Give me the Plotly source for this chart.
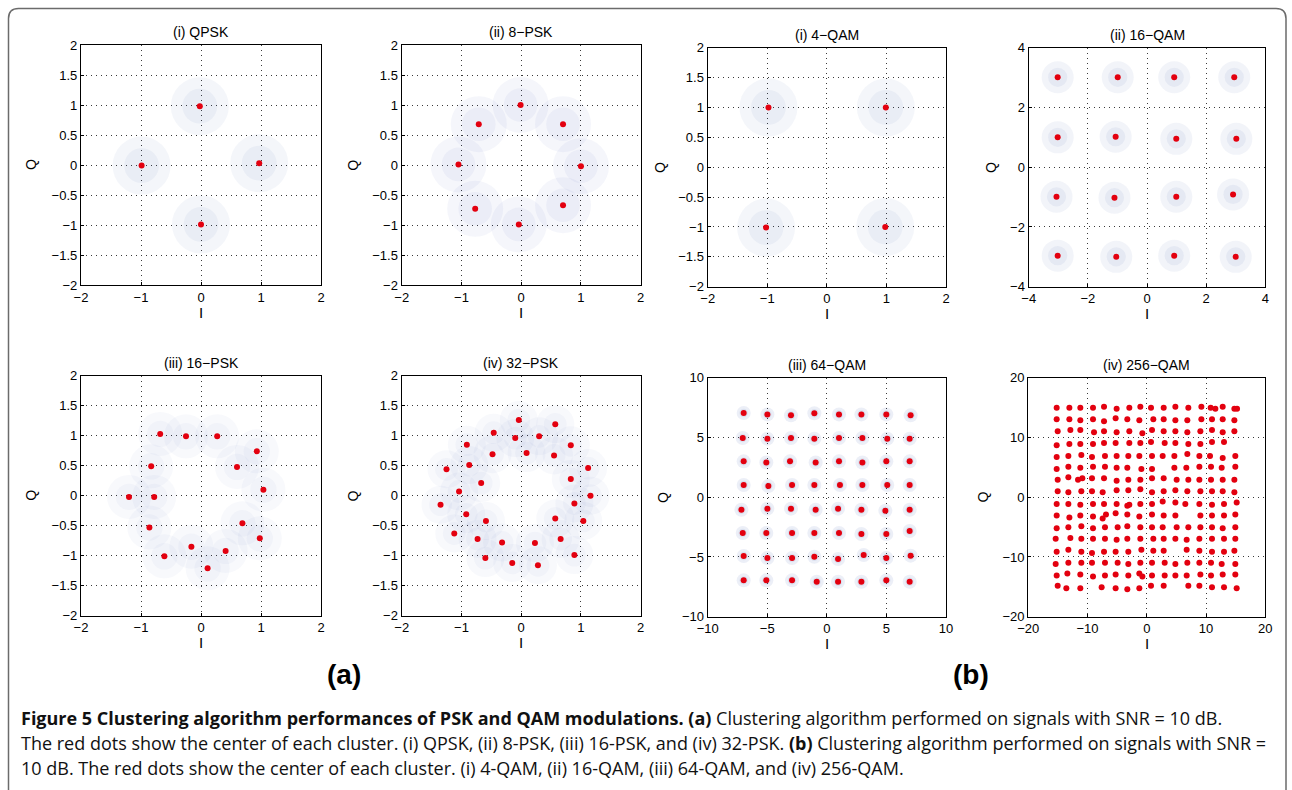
import plotly.graph_objects as go

W, H = 1292, 790

# ---------------- data: cluster centres ----------------
qpsk_i = [-0.02, -0.99, 0.97, 0.00]
qpsk_q = [0.98, -0.01, 0.03, -0.99]

psk8_i = [-0.01, -0.71, 0.70, -1.05, 1.00, -0.77, 0.70, -0.04]
psk8_q = [1.00, 0.68, 0.68, 0.01, -0.02, -0.73, -0.67, -0.99]

psk16_i = [-0.68, -0.25, 0.27, 0.93, 0.60, 1.04, 0.69, 0.98,
           0.41, 0.11, -0.16, -0.61, -0.86, -0.78, -1.20, -0.83]
psk16_q = [1.03, 0.99, 0.99, 0.74, 0.48, 0.10, -0.46, -0.71,
           -0.92, -1.21, -0.85, -1.01, -0.53, -0.02, -0.02, 0.49]

psk32_i = [-0.04, 0.57, -0.46, -0.10, 0.30, -0.91, 0.83, -0.48,
           0.09, 0.55, -1.25, -0.87, 1.12, 0.83, -0.67, -1.04,
           -1.35, 1.16, 0.89, -0.92, -0.59, 0.57, 1.04, -1.12,
           -0.73, -0.32, 0.23, 0.66, -0.60, -0.15, 0.28, 0.89]
psk32_q = [1.26, 1.19, 1.05, 0.96, 0.99, 0.85, 0.84, 0.69,
           0.71, 0.67, 0.44, 0.51, 0.46, 0.28, 0.21, 0.07,
           -0.15, 0.00, -0.13, -0.31, -0.42, -0.38, -0.42, -0.63,
           -0.72, -0.78, -0.79, -0.72, -1.04, -1.12, -1.16, -0.99]

qam4_i = [-0.98, 0.99, -1.02, 0.98]
qam4_q = [1.00, 1.00, -1.01, -1.00]

qam16_i = [-3.02, -0.99, 0.92, 2.95,
           -3.02, -1.06, 0.99, 3.02,
           -3.06, -1.10, 0.99, 2.91,
           -3.02, -1.04, 0.92, 3.00]
qam16_q = [3.01, 3.01, 3.01, 3.01,
           1.00, 1.02, 0.95, 0.95,
           -0.99, -1.02, -0.99, -0.91,
           -2.96, -3.00, -2.96, -3.00]

qam64_i = [-6.98, -4.99, -3.01, -1.05, 1.02, 2.90, 4.99, 7.03,
           -7.06, -4.99, -3.01, -1.05, 1.02, 2.98, 5.07, 6.95,
           -6.98, -5.08, -3.09, -0.94, 1.02, 2.98, 4.99, 6.95,
           -6.98, -4.91, -2.92, -1.05, 1.10, 2.98, 5.07, 6.95,
           -7.17, -4.99, -3.01, -0.94, 0.94, 2.90, 4.91, 6.95,
           -7.06, -5.08, -2.92, -1.05, 1.02, 2.90, 4.99, 6.95,
           -6.98, -4.99, -2.92, -1.05, 0.94, 3.09, 4.99, 7.03,
           -6.98, -5.08, -2.92, -0.85, 0.94, 2.90, 4.99, 6.95]
qam64_q = [7.04, 6.93, 6.85, 7.02, 6.93, 6.93, 6.93, 6.85,
           4.95, 4.90, 4.95, 4.90, 4.95, 4.95, 4.90, 4.90,
           3.00, 2.91, 3.00, 2.91, 3.00, 2.91, 3.00, 3.00,
           1.02, 0.93, 1.02, 1.02, 1.02, 1.02, 1.02, 1.02,
           -1.05, -0.96, -0.96, -1.05, -0.96, -1.05, -1.13, -1.05,
           -3.00, -3.00, -3.00, -3.00, -3.00, -3.08, -3.08, -2.83,
           -4.92, -5.09, -5.09, -4.98, -5.17, -4.84, -5.09, -4.89,
           -6.96, -6.96, -6.96, -7.07, -7.07, -7.07, -6.96, -7.07]

qam256_i = [
    -15.21, -13.07, -11.22, -9.08, -7.22, -5.09, -2.95, -1.09, 0.71, 2.85, 4.82, 7.01, 9.21, 10.78, 11.57, 12.81, 14.78, 15.23,
    -15.21, -13.07, -11.22, -9.08, -7.22, -5.26, -3.29, -1.26, 1.10, 2.85, 4.82, 6.84, 9.21, 11.00, 12.81, 14.78,
    -15.04, -12.90, -11.22, -8.91, -7.22, -5.09, -2.95, -0.75, 0.88, 2.85, 4.82, 6.84, 9.04, 11.00, 12.81, 14.78,
    -15.21, -13.07, -11.22, -9.08, -7.22, -5.26, -2.95, -1.09, 0.71, 3.02, 4.82, 7.01, 9.04, 11.00, 13.03,
    -15.21, -13.24, -11.05, -9.25, -7.06, -5.09, -3.12, -1.26, 0.88, 2.68, 4.65, 6.84, 8.87, 10.67, 12.81, 14.94,
    -15.21, -13.24, -11.22, -9.08, -7.06, -5.09, -3.29, -0.92, 0.88, 4.65, 6.67, 8.87, 10.84, 12.64, 14.94,
    -15.04, -13.24, -11.61, -10.88, -9.25, -7.22, -5.09, -3.12, -1.09, 0.88, 2.85, 5.04, 7.01, 8.87, 10.84, 12.81, 14.78,
    -15.04, -13.24, -11.05, -9.25, -7.45, -5.09, -3.12, -1.09, 0.88, 2.85, 4.82, 6.84, 9.04, 11.00, 12.81, 14.78,
    -15.21, -13.24, -11.22, -9.08, -7.22, -5.09, -3.29, -2.95, -1.09, 0.88, 2.68, 4.82, 6.50, 8.87, 11.00, 13.03, 15.17,
    -15.21, -13.07, -11.22, -9.08, -6.89, -7.45, -5.26, -3.29, -1.26, 0.88, 2.85, 4.82, 9.04, 11.00, 13.03, 14.94,
    -15.21, -13.24, -11.05, -9.08, -7.06, -4.92, -3.29, -1.09, 0.88, 2.68, 5.04, 7.01, 9.04, 11.00, 12.81, 14.94,
    -15.38, -12.90, -11.05, -9.08, -7.06, -5.09, -3.29, -1.09, 1.10, 2.85, 4.82, 6.73, 8.87, 11.00, 13.03, 14.94,
    -15.21, -13.24, -11.05, -9.25, -7.22, -5.26, -3.12, -0.92, 1.10, 2.85, 6.73, 8.87, 11.00, 13.03, 14.78,
    -15.38, -13.24, -11.05, -9.25, -7.06, -4.92, -3.12, -1.09, 0.88, 3.02, 4.82, 6.84, 8.87, 10.84, 12.64, 14.94,
    -15.21, -13.41, -11.22, -9.08, -7.06, -5.26, -3.12, -1.26, -0.75, 0.88, 3.02, 4.82, 6.73, 9.04, 10.84, 12.81, 14.94,
    -15.04, -13.58, -11.22, -7.62, -5.26, -3.29, -1.26, 0.71, 2.85, 7.01, 8.87, 11.00, 13.03, 15.17,
]
qam256_q = [
    14.98, 14.98, 14.98, 14.98, 15.15, 14.82, 14.98, 15.15, 14.98, 14.98, 15.15, 14.98, 15.15, 14.98, 14.82, 15.15, 14.82, 14.82,
    13.03, 13.03, 12.87, 13.03, 12.70, 13.20, 13.03, 12.87, 13.03, 13.03, 12.87, 12.87, 13.03, 13.03, 13.03, 12.87,
    11.02, 11.25, 11.25, 10.86, 11.02, 10.86, 11.02, 10.69, 11.25, 11.02, 11.02, 10.86, 11.02, 11.25, 10.86, 11.02,
    8.68, 8.90, 8.90, 8.90, 9.07, 9.07, 9.07, 9.07, 9.24, 9.07, 9.07, 8.90, 8.90, 9.24, 9.24,
    6.73, 6.90, 7.06, 6.73, 6.90, 6.90, 6.90, 6.90, 6.90, 6.90, 6.90, 7.23, 6.90, 6.90, 6.56, 6.90,
    4.72, 5.11, 4.94, 5.11, 5.11, 4.94, 4.94, 4.72, 4.72, 4.94, 4.94, 5.11, 5.11, 4.94, 5.11,
    2.93, 3.33, 2.93, 3.16, 3.16, 3.16, 2.77, 2.93, 2.93, 3.16, 3.16, 2.93, 2.93, 2.93, 2.93, 2.93, 2.93,
    0.98, 0.81, 0.98, 0.98, 0.81, 1.15, 1.15, 1.32, 0.81, 0.98, 1.15, 0.98, 0.98, 0.98, 0.98, 0.81,
    -1.12, -1.12, -1.28, -1.12, -1.12, -1.12, -1.45, -1.28, -1.12, -1.12, -0.73, -0.89, -1.12, -1.12, -1.28, -1.12, -0.89,
    -3.07, -3.40, -3.07, -3.24, -2.90, -3.57, -2.68, -2.90, -3.24, -2.90, -3.07, -3.07, -3.07, -3.07, -3.07, -2.90,
    -5.19, -5.02, -4.85, -5.19, -5.02, -5.02, -4.85, -5.02, -5.02, -5.02, -5.02, -5.02, -5.02, -5.02, -5.19, -5.02,
    -6.97, -6.81, -6.97, -6.97, -6.97, -7.14, -6.97, -6.97, -6.97, -6.97, -6.97, -7.14, -6.97, -6.97, -6.97, -6.97,
    -9.15, -8.81, -9.15, -9.32, -9.15, -9.15, -9.15, -8.81, -8.98, -8.98, -8.81, -8.98, -9.15, -9.15, -8.98,
    -11.16, -10.99, -10.99, -10.99, -10.99, -10.99, -11.16, -10.99, -10.99, -10.99, -11.16, -10.99, -10.99, -10.99, -11.16, -11.16,
    -13.11, -12.78, -12.94, -13.28, -13.11, -12.94, -13.11, -12.78, -13.28, -13.11, -13.11, -13.11, -13.11, -12.94, -13.11, -12.94, -12.94,
    -14.84, -15.23, -15.23, -15.06, -15.23, -15.40, -15.23, -14.84, -14.84, -14.84, -14.84, -15.06, -15.06, -15.23,
]

# tick values
ticks_psk_x = [-2, -1, 0, 1, 2]
ticks_psk_y = [-2, -1.5, -1, -0.5, 0, 0.5, 1, 1.5, 2]
ticks_16 = [-4, -2, 0, 2, 4]
ticks_64 = [-10, -5, 0, 5, 10]
ticks_256 = [-20, -10, 0, 10, 20]

titles = ["(i) QPSK", "(ii) 8\u2212PSK", "(i) 4\u2212QAM", "(ii) 16\u2212QAM",
          "(iii) 16\u2212PSK", "(iv) 32\u2212PSK", "(iii) 64\u2212QAM", "(iv) 256\u2212QAM"]

caption_lines = [
    "<b>Figure 5 Clustering algorithm performances of PSK and QAM modulations. (a)</b> "
    "Clustering algorithm performed on signals with SNR = 10 dB.",
    "The red dots show the center of each cluster. (i) QPSK, (ii) 8-PSK, (iii) 16-PSK, and (iv) 32-PSK. "
    "<b>(b)</b> Clustering algorithm performed on signals with SNR =",
    "10 dB. The red dots show the center of each cluster. (i) 4-QAM, (ii) 16-QAM, (iii) 64-QAM, and (iv) 256-QAM.",
]

# ---------------- layout / style ----------------
series = [(qpsk_i, qpsk_q), (psk8_i, psk8_q), (qam4_i, qam4_q), (qam16_i, qam16_q),
          (psk16_i, psk16_q), (psk32_i, psk32_q), (qam64_i, qam64_q), (qam256_i, qam256_q)]
ranges = [2, 2, 2, 4, 2, 2, 10, 20]
xticks = [ticks_psk_x, ticks_psk_x, ticks_psk_x, ticks_16, ticks_psk_x, ticks_psk_x, ticks_64, ticks_256]
yticks = [ticks_psk_y, ticks_psk_y, ticks_psk_y, ticks_16, ticks_psk_y, ticks_psk_y, ticks_64, ticks_256]
# plot boxes in pixels: left, top, right, bottom
boxes = [(81, 45, 321, 285), (401.7, 45, 640.7, 285), (707.7, 47.7, 946, 286.7), (1028.7, 47.7, 1265.3, 286.7),
         (81, 375.7, 321, 615.7), (401.7, 375.7, 640.7, 615.7), (707.7, 377.7, 946, 616.7), (1028.3, 377.7, 1265.3, 616.7)]
q_offsets = [50, 49, 48, 38, 50, 49, 45, 45]
cloud_size = [58, 56, 58, 32, 44, 38, 14, 0]
cloud_alpha = [0.06, 0.055, 0.06, 0.07, 0.04, 0.035, 0.10, 0]

RED = "#e3000f"
TICKFONT = dict(family="Liberation Sans, Arial, sans-serif", size=13, color="black")


def fmt(v):
    return f"{v:g}".replace("-", "\u2212")


def px(x):
    return x / W


def py(y):
    return 1 - y / H


fig = go.Figure()
annotations = []

for k in range(8):
    n = "" if k == 0 else str(k + 1)
    xi, yq = series[k]
    l, t, r, b = boxes[k]
    if cloud_size[k] > 0:
        for scale in (1.0, 0.6):
            fig.add_trace(go.Scatter(
                x=xi, y=yq, xaxis="x" + n, yaxis="y" + n, mode="markers", hoverinfo="skip",
                marker=dict(size=cloud_size[k] * scale, color=f"rgba(70,95,175,{cloud_alpha[k]})",
                            line=dict(width=0)),
                showlegend=False))
    fig.add_trace(go.Scatter(
        x=xi, y=yq, xaxis="x" + n, yaxis="y" + n, mode="markers",
        marker=dict(size=6, color=RED, line=dict(width=0)), showlegend=False))

    rng = ranges[k]
    common = dict(range=[-rng, rng], showgrid=True, gridcolor="#3a3a3a", griddash="1px,4px", gridwidth=1,
                  zeroline=False, showline=True, mirror=True, linecolor="black", linewidth=1.3,
                  ticks="inside", ticklen=3, tickcolor="black", tickfont=TICKFONT, fixedrange=True,
                  automargin=False)
    fig.layout["xaxis" + n] = dict(domain=[px(l), px(r)], anchor="y" + n,
                                   tickvals=xticks[k], ticktext=[fmt(v) for v in xticks[k]], **common)
    fig.layout["yaxis" + n] = dict(domain=[py(b), py(t)], anchor="x" + n,
                                   tickvals=yticks[k], ticktext=[fmt(v) for v in yticks[k]], **common)

    annotations.append(dict(x=px((l + r) / 2), y=py(t - 13), xref="paper", yref="paper",
                            text=titles[k], showarrow=False, xanchor="center", yanchor="middle",
                            font=dict(family="Liberation Sans, Arial", size=14, color="black")))
    annotations.append(dict(x=px((l + r) / 2), y=py(b + 27), xref="paper", yref="paper",
                            text="I", showarrow=False, xanchor="center", yanchor="middle",
                            font=dict(family="Liberation Sans, Arial", size=15, color="black")))
    annotations.append(dict(x=px(l - q_offsets[k]), y=py((t + b) / 2), xref="paper", yref="paper",
                            text="Q", showarrow=False, xanchor="center", yanchor="middle", textangle=-90,
                            font=dict(family="Liberation Sans, Arial", size=14, color="black")))

# panel group labels
for lab, cx in (("(a)", 344), ("(b)", 971)):
    annotations.append(dict(x=px(cx), y=py(674), xref="paper", yref="paper", text=f"<b>{lab}</b>",
                            showarrow=False, xanchor="center", yanchor="middle",
                            font=dict(family="Liberation Sans, Arial", size=28, color="black")))

# caption
for j, line in enumerate(caption_lines):
    annotations.append(dict(x=px(19), y=py(718 + 25 * j), xref="paper", yref="paper", text=line,
                            showarrow=False, xanchor="left", yanchor="middle", align="left",
                            font=dict(family="Open Sans, sans-serif", size=18, color="#111111")))

x0, y0, x1 = 8.5, 8.5, 1286
rad = 10
path = (f"M {px(x0)},{py(790)} L {px(x0)},{py(y0 + rad)} Q {px(x0)},{py(y0)} {px(x0 + rad)},{py(y0)} "
        f"L {px(x1 - rad)},{py(y0)} Q {px(x1)},{py(y0)} {px(x1)},{py(y0 + rad)} L {px(x1)},{py(790)}")
shapes = [dict(type="path", path=path, xref="paper", yref="paper", line=dict(color="#6b6b6b", width=1.5))]

fig.update_layout(width=W, height=H, margin=dict(l=0, r=0, t=0, b=0, autoexpand=False),
                  paper_bgcolor="white", plot_bgcolor="white",
                  annotations=annotations, shapes=shapes, showlegend=False)

fig.write_html("out.html",
               post_script="document.body.style.margin='0';document.body.style.padding='0';")
